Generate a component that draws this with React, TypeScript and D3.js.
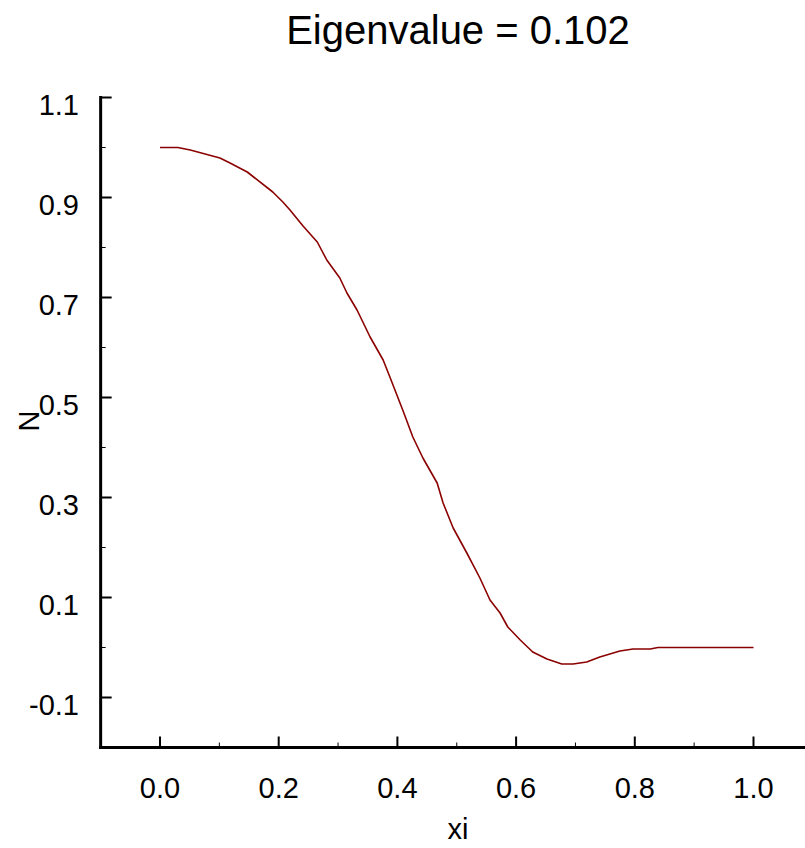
import React from "react";
import * as d3 from "d3";

// Eigenfunction N(xi) sampled along the domain
const xiValues = [
  0, 0.03, 0.051, 0.101, 0.118, 0.147, 0.19, 0.207, 0.219, 0.241, 0.265, 0.281,
  0.303, 0.315, 0.332, 0.354, 0.376, 0.388, 0.409, 0.426, 0.443, 0.467, 0.477,
  0.494, 0.517, 0.539, 0.556, 0.573, 0.586, 0.607, 0.628, 0.652, 0.677, 0.696,
  0.719, 0.741, 0.775, 0.797, 0.826, 0.839, 1.0,
];
const nValues = [
  1.0, 1.0, 0.995, 0.979, 0.969, 0.951, 0.911, 0.891, 0.875, 0.843, 0.811, 0.775,
  0.739, 0.709, 0.675, 0.621, 0.575, 0.539, 0.475, 0.421, 0.379, 0.329, 0.289,
  0.239, 0.189, 0.139, 0.095, 0.069, 0.041, 0.015, -0.009, -0.023, -0.033, -0.033,
  -0.029, -0.019, -0.007, -0.003, -0.003, 0.0, 0.0,
];

const xMajorTicks = [0, 0.2, 0.4, 0.6, 0.8, 1.0];
const xMinorTicks = [0.1, 0.3, 0.5, 0.7, 0.9, 1.1];
const yMajorTicks = [1.1, 0.9, 0.7, 0.5, 0.3, 0.1, -0.1];
const yMinorTicks = [1.0, 0.8, 0.6, 0.4, 0.2, 0.0, -0.2];

const titleText = "Eigenvalue = 0.102";
const xLabel = "xi";
const yLabel = "N";

const W = 805;
const H = 848;
const FONT = "'Liberation Sans', Arial, Helvetica, sans-serif";

// one decimal, plain hyphen for negatives
const fmt = (v: number) => v.toFixed(1);

export default function App() {
  const x = d3.scaleLinear().domain([0, 1]).range([160, 753.5]);
  const y = d3.scaleLinear().domain([0, 1.1]).range([647.5, 97.5]);

  const data = xiValues.map((v, i) => [v, nValues[i]] as [number, number]);
  const line = d3
    .line<[number, number]>()
    .x((d) => x(d[0]))
    .y((d) => y(d[1]));

  const axisX0 = x(-0.1);
  const axisY0 = y(-0.2);

  return (
    <svg
      width={W}
      height={H}
      style={{ position: "absolute", left: 0, top: 0, background: "#fff" }}
      fontFamily={FONT}
    >
      <rect width={W} height={H} fill="#fff" />
      <text x={458} y={44} textAnchor="middle" fontSize={40} fill="#000">
        {titleText}
      </text>

      {/* y axis */}
      <line x1={axisX0} x2={axisX0} y1={y(1.1) - 1.5} y2={axisY0 + 1.5} stroke="#000" strokeWidth={3} />
      {yMajorTicks.map((t) => (
        <g key={"ym" + t}>
          <line x1={axisX0} x2={axisX0 + 11} y1={y(t)} y2={y(t)} stroke="#000" strokeWidth={2} />
          <text x={79} y={y(t) + 17} textAnchor="end" fontSize={29} fill="#000">
            {fmt(t)}
          </text>
        </g>
      ))}
      {yMinorTicks.map((t) => (
        <line key={"yn" + t} x1={axisX0} x2={axisX0 + 5} y1={y(t)} y2={y(t)} stroke="#000" strokeWidth={1} />
      ))}

      {/* x axis */}
      <line x1={axisX0 - 1.5} x2={W} y1={axisY0} y2={axisY0} stroke="#000" strokeWidth={3} />
      {xMajorTicks.map((t) => (
        <g key={"xm" + t}>
          <line x1={x(t)} x2={x(t)} y1={axisY0} y2={axisY0 - 11} stroke="#000" strokeWidth={2} />
          <text x={x(t)} y={798} textAnchor="middle" fontSize={29} fill="#000">
            {fmt(t)}
          </text>
        </g>
      ))}
      {xMinorTicks.map((t) => (
        <line key={"xn" + t} x1={x(t)} x2={x(t)} y1={axisY0} y2={axisY0 - 5} stroke="#000" strokeWidth={1} />
      ))}

      <text x={458} y={839} textAnchor="middle" fontSize={29} fill="#000">
        {xLabel}
      </text>
      <text
        transform={`translate(39, 421) rotate(-90)`}
        textAnchor="middle"
        fontSize={29}
        fill="#000"
      >
        {yLabel}
      </text>

      <path d={line(data) ?? ""} fill="none" stroke="#8b0000" strokeWidth={1.6} strokeLinejoin="round" />
    </svg>
  );
}
